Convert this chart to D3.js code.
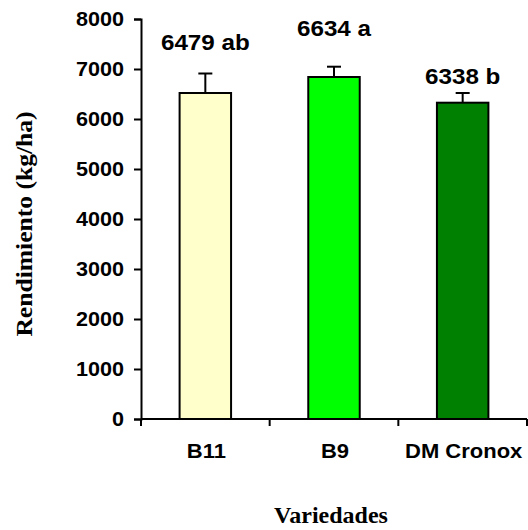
<!DOCTYPE html>
<html>
<head>
<meta charset="utf-8">
<script src="https://cdn.jsdelivr.net/npm/d3@7"></script>
<style>
  body { margin: 0; background: #fff; }
  svg { display: block; }
  .tick text { font-family: "Liberation Sans", Arial, sans-serif; font-weight: bold; }
</style>
</head>
<body>
<svg id="chart" width="528" height="530"></svg>
<script>
// datos
const variedades = ["B11", "B9", "DM Cronox"];
const rendimiento = [6520, 6840, 6326];
const errorSup = [390, 206, 194];
const etiquetas = ["6479 ab", "6634 a", "6338 b"];
const posEtiqueta = [7380, 7660, 6700]; // altura de la etiqueta en kg/ha
const colores = ["#FFFFCC", "#00FF00", "#008000"];
const yTicks = [0, 1000, 2000, 3000, 4000, 5000, 6000, 7000, 8000];

const svg = d3.select("#chart");
const margin = { left: 141, right: 1, top: 19, bottom: 111 };
const W = 528, H = 530;
const sans = "Liberation Sans, Arial, sans-serif";
const serif = "Liberation Serif, Times New Roman, serif";

const x = d3.scaleBand()
    .domain(variedades)
    .range([margin.left, W - margin.right])
    .paddingInner(0.6)
    .paddingOuter(0.3);

const y = d3.scaleLinear()
    .domain([0, 8000])
    .range([H - margin.bottom, margin.top]);

const step = x.step();
const cx = d => x(d) + x.bandwidth() / 2;

// barras
svg.selectAll(".bar")
    .data(variedades)
    .enter()
    .append("rect")
    .attr("class", "bar")
    .attr("x", d => x(d))
    .attr("y", (d, i) => y(rendimiento[i]))
    .attr("width", x.bandwidth())
    .attr("height", (d, i) => y(0) - y(rendimiento[i]))
    .attr("fill", (d, i) => colores[i])
    .attr("stroke", "#000")
    .attr("stroke-width", 2);

// barras de error (solo hacia arriba)
const err = svg.selectAll(".err")
    .data(variedades)
    .enter()
    .append("g")
    .attr("class", "err")
    .attr("stroke", "#000")
    .attr("stroke-width", 2);

err.append("line")
    .attr("x1", cx)
    .attr("x2", cx)
    .attr("y1", (d, i) => y(rendimiento[i]))
    .attr("y2", (d, i) => y(rendimiento[i] + errorSup[i]));

err.append("line")
    .attr("x1", d => cx(d) - 7)
    .attr("x2", d => cx(d) + 7)
    .attr("y1", (d, i) => y(rendimiento[i] + errorSup[i]))
    .attr("y2", (d, i) => y(rendimiento[i] + errorSup[i]));

// etiquetas de valor (texto un poco ensanchado como en el original)
svg.selectAll(".lbl")
    .data(variedades)
    .enter()
    .append("text")
    .attr("class", "lbl")
    .text((d, i) => etiquetas[i])
    .attr("transform", (d, i) => `translate(${cx(d)},${y(posEtiqueta[i])}) scale(1.1,1)`)
    .attr("text-anchor", "middle")
    .attr("font-family", sans)
    .attr("font-weight", "bold")
    .attr("font-size", 22);

// eje Y
const yAxis = svg.append("g")
    .attr("transform", `translate(${margin.left},0)`)
    .call(d3.axisLeft(y).tickValues(yTicks).tickFormat(d3.format("d")).tickSize(7).tickPadding(11));
yAxis.selectAll("text")
    .attr("font-size", 20)
    .attr("fill", "#000")
    .attr("x", 0)
    .attr("transform", "translate(-17,0) scale(1.08,1)");
yAxis.selectAll("line, path").attr("stroke", "#000").attr("stroke-width", 2);

// eje X: marcas entre categorias
const xAxis = svg.append("g")
    .attr("transform", `translate(0,${y(0)})`);
xAxis.append("line")
    .attr("x1", margin.left).attr("x2", W - margin.right)
    .attr("stroke", "#000").attr("stroke-width", 2);
xAxis.selectAll(".xt")
    .data(d3.range(variedades.length + 1))
    .enter()
    .append("line")
    .attr("x1", i => margin.left + i * step)
    .attr("x2", i => margin.left + i * step)
    .attr("y1", 0).attr("y2", 7)
    .attr("stroke", "#000").attr("stroke-width", 2);
xAxis.selectAll(".xl")
    .data(variedades)
    .enter()
    .append("text")
    .text(d => d)
    .attr("transform", d => `translate(${cx(d) + 1},39) scale(1.1,1)`)
    .attr("text-anchor", "middle")
    .attr("font-family", sans)
    .attr("font-weight", "bold")
    .attr("font-size", 20);

// titulos
svg.append("text")
    .text("Variedades")
    .attr("x", 331)
    .attr("y", 523)
    .attr("text-anchor", "middle")
    .attr("font-family", serif)
    .attr("font-weight", "bold")
    .attr("font-size", 24);

svg.append("text")
    .text("Rendimiento (kg/ha)")
    .attr("transform", "translate(32,224) rotate(-90) scale(1.066,1)")
    .attr("text-anchor", "middle")
    .attr("font-family", serif)
    .attr("font-weight", "bold")
    .attr("font-size", 24);
</script>
</body>
</html>
